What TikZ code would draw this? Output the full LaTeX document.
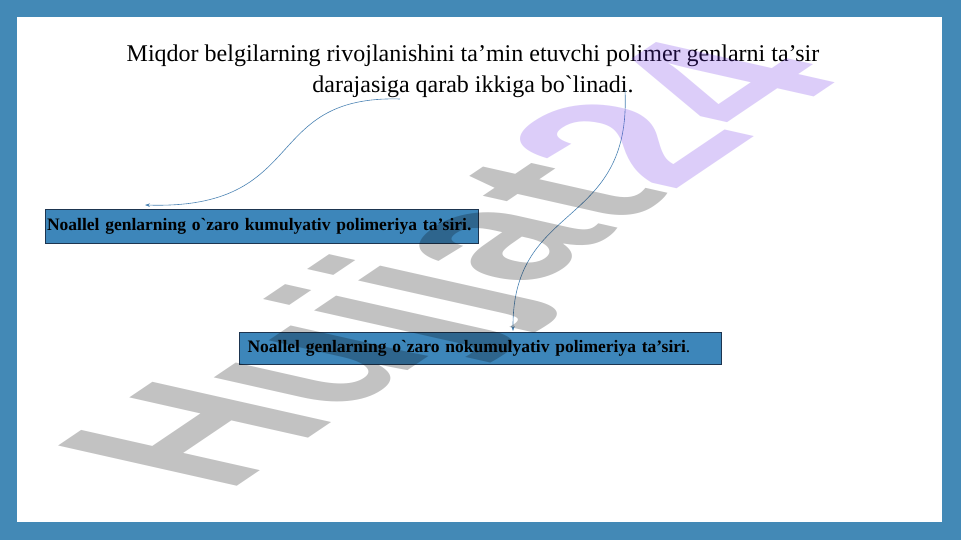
\documentclass[tikz,border=0pt]{standalone}
\usepackage{fontspec}
\setmainfont{Liberation Serif}[Ligatures=TeXOff]
\newfontfamily\wmfont{Liberation Sans}
\usetikzlibrary{arrows.meta}
\definecolor{frameblue}{HTML}{4389B6}
\definecolor{boxblue}{HTML}{3D86BA}
\definecolor{boxline}{HTML}{1D3550}
\definecolor{linkblue}{HTML}{4C84B4}
\definecolor{wmpurple}{RGB}{110,50,230}
\begin{document}
\begin{tikzpicture}[x=1pt,y=-1pt,every node/.style={inner sep=0},
    genbox/.style={draw=boxline,fill=boxblue,line width=1pt,anchor=north west,inner ysep=0,text=black,
      align=left,font=\fontsize{17.5}{20}\selectfont\bfseries},
    link/.style={draw=linkblue,line width=0.6pt,-{Stealth[length=5pt,width=3.5pt]}}]
        \useasboundingbox (0,0) rectangle (961,540);
        \fill[frameblue] (0,0) rectangle (961,540);
        \fill[white] (17,17) rectangle (942,522);
        \node[align=center,font=\fontsize{24}{31}\selectfont,anchor=north] (title) at (473,45)
          {Miqdor belgilarning rivojlanishini ta’min etuvchi polimer genlarni ta’sir\\darajasiga qarab ikkiga bo`linadi.};
        \node[genbox,inner xsep=1.5pt,text width=430pt,minimum height=34pt] (kum) at (45,209)
          {Noallel genlarning o`zaro kumulyativ polimeriya ta’siri.};
        \node[genbox,inner xsep=8pt,text width=466pt,minimum height=32pt] (nokum) at (239,332)
          {Noallel genlarning o`zaro nokumulyativ polimeriya ta’siri\textmd{.}};
        \coordinate (s1) at (400,99);
        \coordinate (s2) at (625,90);
        \draw[link] (s1) .. controls (260,95) and (310,210) .. ([shift={(100,-4)}]kum.north west);
        \draw[link] (s2) .. controls (632,230) and (512,200) .. ([shift={(274,-1)}]nokum.north west);
        \begin{scope}[shift={(226,494)},yscale=0.39]
          \node[rotate=60,xscale=1.07,transform shape,anchor=base west,text opacity=0.24,
            font=\fontsize{300}{300}\selectfont\wmfont\bfseries] (wm) at (0,0) {Hujjat\textcolor{wmpurple}{24}};
        \end{scope}
      \end{tikzpicture}
\end{document}
